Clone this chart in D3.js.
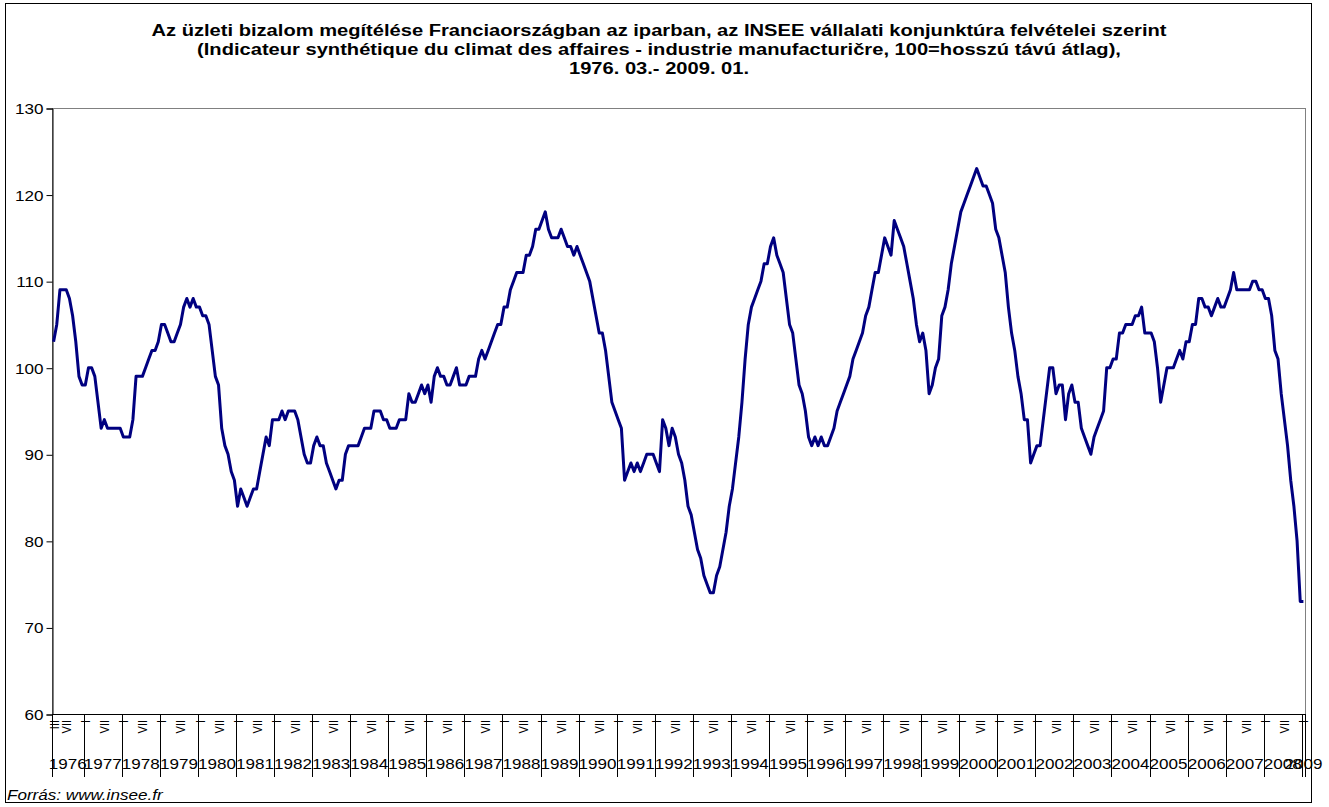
<!DOCTYPE html>
<html>
<head>
<meta charset="utf-8">
<script src="https://cdn.jsdelivr.net/npm/d3@7/dist/d3.min.js"></script>
<style>
  body { margin: 0; background: #fff; }
  svg { display: block; font-family: Arial, "Liberation Sans", sans-serif; }
</style>
</head>
<body>
<div id="chart"></div>
<script>
// title and source
var titleLines = [
  "Az üzleti bizalom megítélése Franciaországban az iparban, az INSEE vállalati konjunktúra felvételei szerint",
  "(Indicateur synthétique du climat des affaires - industrie manufacturičre, 100=hosszú távú átlag),",
  "1976. 03.- 2009. 01."
];
var source = "Forrás: www.insee.fr";

// monthly values, 1976-03 .. 2009-01
var values = [
  103,105,109,109,109,108,106,103,99,98,                 // 1976 III-XII
  98,100,100,99,96,93,94,93,93,93,93,93,                 // 1977
  92,92,92,94,99,99,99,100,101,102,102,103,              // 1978
  105,105,104,103,103,104,105,107,108,107,108,107,       // 1979
  107,106,106,105,102,99,98,93,91,90,88,87,              // 1980
  84,86,85,84,85,86,86,88,90,92,91,94,                   // 1981
  94,94,95,94,95,95,95,94,92,90,89,89,                   // 1982
  91,92,91,91,89,88,87,86,87,87,90,91,                   // 1983
  91,91,91,92,93,93,93,95,95,95,94,94,                   // 1984
  93,93,93,94,94,94,97,96,96,97,98,97,                   // 1985
  98,96,99,100,99,99,98,98,99,100,98,98,                 // 1986
  98,99,99,99,101,102,101,102,103,104,105,105,           // 1987
  107,107,109,110,111,111,111,113,113,114,116,116,       // 1988
  117,118,116,115,115,115,116,115,114,114,113,114,       // 1989
  113,112,111,110,108,106,104,104,102,99,96,95,          // 1990
  94,93,87,88,89,88,89,88,89,90,90,90,                   // 1991
  89,88,94,93,91,93,92,90,89,87,84,83,                   // 1992
  81,79,78,76,75,74,74,76,77,79,81,84,                   // 1993
  86,89,92,96,101,105,107,108,109,110,112,112,           // 1994
  114,115,113,112,111,108,105,104,101,98,97,95,          // 1995
  92,91,92,91,92,91,91,92,93,95,96,97,                   // 1996
  98,99,101,102,103,104,106,107,109,111,111,113,         // 1997
  115,114,113,117,116,115,114,112,110,108,105,103,       // 1998
  104,102,97,98,100,101,106,107,109,112,114,116,         // 1999
  118,119,120,121,122,123,122,121,121,120,119,116,       // 2000
  115,113,111,107,104,102,99,97,94,94,89,90,             // 2001
  91,91,94,97,100,100,97,98,98,94,97,98,                 // 2002
  96,96,93,92,91,90,92,93,94,95,100,100,                 // 2003
  101,101,104,104,105,105,105,106,106,107,104,104,       // 2004
  104,103,100,96,98,100,100,100,101,102,101,103,         // 2005
  103,105,105,108,108,107,107,106,107,108,107,107,       // 2006
  108,109,111,109,109,109,109,109,110,110,109,109,       // 2007
  108,108,106,102,101,97,94,91,87,84,80,73,              // 2008
  73                                                     // 2009 I
];

var years = d3.range(1976, 2010);
var monthNames = { 1: "I", 3: "III", 7: "VII" };
var yTicks = [60, 70, 80, 90, 100, 110, 120, 130];
var startYear = 1976, startMonth = 3;

var W = 1329, H = 807;
var plot = { left: 52, right: 1305, top: 108, bottom: 714 };
var sx = 1.22; // the original chart is stretched sideways, text with it

// category for each value: year and month
var cats = values.map(function(v, i) {
  var m = startMonth - 1 + i;
  return { i: i, year: startYear + Math.floor(m / 12), month: (m % 12) + 1, v: v };
});

var svg = d3.select("#chart").append("svg")
  .attr("width", W).attr("height", H);

// outer chart border
svg.append("rect")
  .attr("x", 5.5).attr("y", 3.5)
  .attr("width", 1306).attr("height", 799)
  .attr("fill", "none").attr("stroke", "#000").attr("stroke-width", 1);

svg.append("g").selectAll("text")
  .data(titleLines).enter().append("text")
  .attr("transform", function(d, i) { return "translate(659," + (36 + i * 19) + ") scale(" + sx + ",1)"; })
  .attr("text-anchor", "middle")
  .style("font-weight", "bold").style("font-size", "16.5px")
  .text(function(d) { return d; });

var x = d3.scaleBand()
  .domain(cats.map(function(d) { return d.i; }))
  .range([plot.left, plot.right])
  .padding(0);

var y = d3.scaleLinear()
  .domain([60, 130])
  .range([plot.bottom, plot.top]);

// plot area border
svg.append("rect")
  .attr("x", plot.left + 0.5).attr("y", plot.top + 0.5)
  .attr("width", plot.right - plot.left).attr("height", plot.bottom - plot.top)
  .attr("fill", "none").attr("stroke", "#808080");

// y axis
var yAxis = svg.append("g")
  .attr("transform", "translate(" + (plot.left + 0.5) + ",0.5)")
  .call(d3.axisLeft(y).tickValues(yTicks).tickSize(6).tickPadding(4));
yAxis.selectAll("line, path").attr("stroke", "#000");
yAxis.selectAll("text")
  .attr("x", null).attr("dy", null)
  .attr("transform", "translate(-9,5) scale(" + sx + ",1)")
  .style("font-size", "14px").attr("fill", "#000")
  .style("font-family", "Arial, 'Liberation Sans', sans-serif");

// x axis line
svg.append("line")
  .attr("x1", plot.left).attr("x2", plot.right + 1)
  .attr("y1", plot.bottom + 0.5).attr("y2", plot.bottom + 0.5)
  .attr("stroke", "#000");

// year boundaries (long ticks)
var yearStarts = cats.filter(function(d, i) { return i === 0 || d.month === 1; });
var bounds = yearStarts.map(function(d) { return x(d.i); }).concat([plot.right]);
svg.append("g").selectAll("line")
  .data(bounds).enter().append("line")
  .attr("x1", function(d) { return Math.round(d) + 0.5; })
  .attr("x2", function(d) { return Math.round(d) + 0.5; })
  .attr("y1", plot.bottom).attr("y2", 777)
  .attr("stroke", "#000");

// month labels (rotated)
var bw = x.bandwidth();
svg.append("g").selectAll("text")
  .data(cats.filter(function(d, i) { return i === 0 || d.month === 1 || d.month === 7; }))
  .enter().append("text")
  .attr("transform", function(d) {
    return "translate(" + (x(d.i) + bw / 2 + 5) + "," + (plot.bottom + 6) + ") scale(" + sx + ",1) rotate(-90)";
  })
  .attr("text-anchor", "end")
  .style("font-size", "11px")
  .text(function(d) { return monthNames[d.month]; });

// year labels centred in their span
svg.append("g").selectAll("text")
  .data(years).enter().append("text")
  .attr("transform", function(yr, k) {
    return "translate(" + ((bounds[k] + bounds[k + 1]) / 2) + ",769) scale(" + sx + ",1)";
  })
  .attr("text-anchor", "middle")
  .style("font-size", "14px")
  .text(function(d) { return d; });

// the series
var line = d3.line()
  .x(function(d) { return x(d.i) + bw / 2; })
  .y(function(d) { return y(d.v); });

svg.append("path")
  .datum(cats)
  .attr("fill", "none")
  .attr("stroke", "#000080")
  .attr("stroke-width", 3)
  .attr("stroke-linejoin", "round")
  .attr("d", line);

svg.append("text")
  .attr("transform", "translate(7,800) scale(" + sx + ",1)")
  .style("font-style", "italic").style("font-size", "14px")
  .text(source);
</script>
</body>
</html>
